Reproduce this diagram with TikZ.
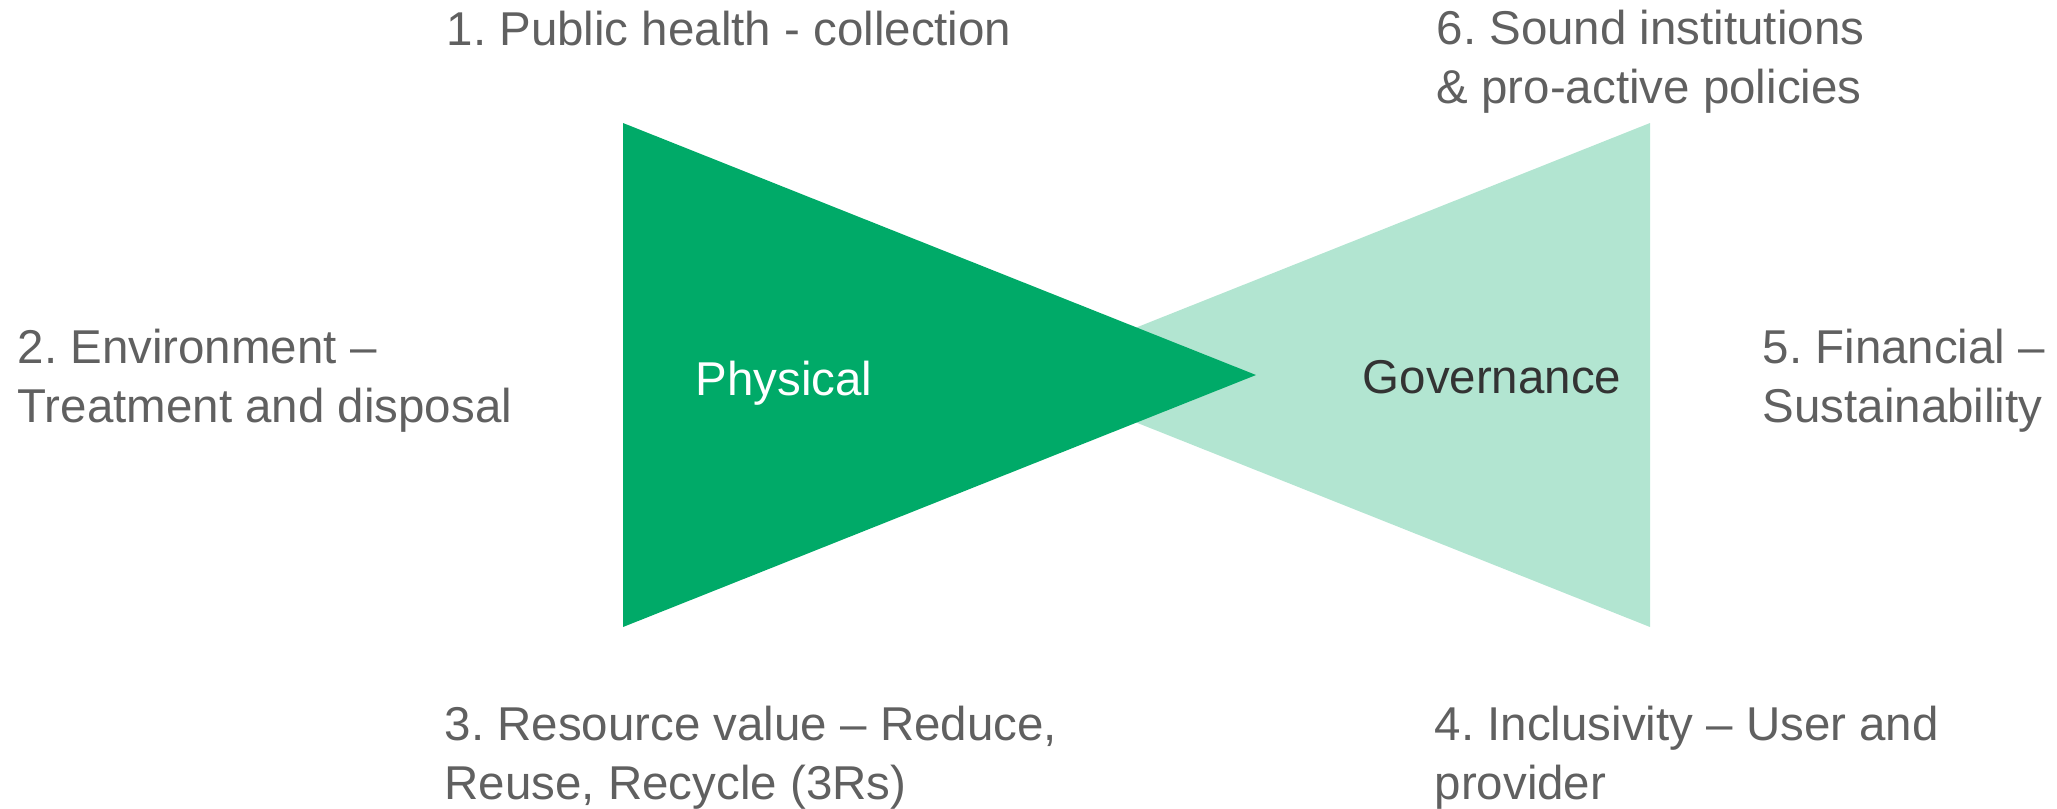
\documentclass[tikz,border=0pt]{standalone}
\usepackage{fontspec}
\setmainfont{Liberation Sans}
\frenchspacing
\definecolor{physgreen}{RGB}{0,170,104}
\definecolor{govgreen}{RGB}{178,229,209}
\definecolor{labelgray}{RGB}{96,96,96}
\definecolor{govtext}{RGB}{51,51,51}
\tikzset{
	pillar/.style={anchor=base west, inner sep=0pt, align=left, text=labelgray,
		font=\fontsize{13.5pt}{16.6pt}\selectfont},
}
\begin{document}
\begin{tikzpicture}[x=0.01cm, y=-0.01cm]
				\useasboundingbox (0,0) rectangle (2057,808);
				\fill [govgreen] (1650,123) -- (1650,627) -- (1017,375) -- cycle;
				\fill [physgreen] (623,123) -- (623,627) -- (1256,375) -- cycle;
				\node [pillar, text=white] (physical) at (695,395) {Physical};
				\node [pillar, text=govtext] (governance) at (1362,393) {Governance};
				\node [pillar] (health) at (446,45) {1. Public health - collection};
				\node [pillar] (environment) at (17,422) {2. Environment –\\Treatment and disposal};
				\node [pillar] (resource) at (444,799) {3. Resource value – Reduce,\\Reuse, Recycle (3Rs)};
				\node [pillar] (inclusivity) at (1434,799) {4. Inclusivity – User and\\provider};
				\node [pillar] (financial) at (1762,422) {5. Financial –\\Sustainability};
				\node [pillar] (institutions) at (1436,103) {6. Sound institutions\\\& pro-active policies};
				\end{tikzpicture}
\end{document}
